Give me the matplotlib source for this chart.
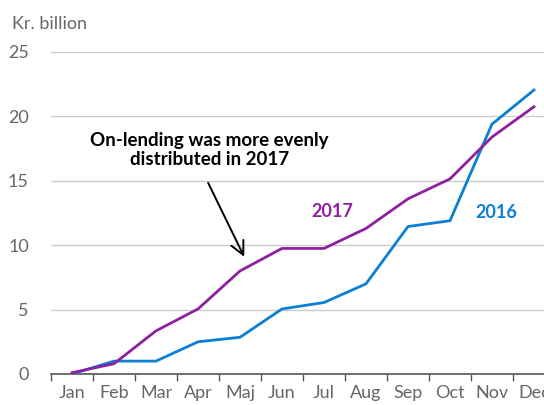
import numpy as np
import matplotlib.pyplot as plt

# --- Datos ---
meses = ['Jan', 'Feb', 'Mar', 'Apr', 'Maj', 'Jun', 'Jul', 'Aug', 'Sep', 'Oct', 'Nov', 'Dec']
valores_2016 = [0.0, 1.0, 1.0, 2.5, 2.85, 5.05, 5.55, 7.0, 11.45, 11.9, 19.4, 22.05]
valores_2017 = [0.1, 0.8, 3.35, 5.05, 8.0, 9.75, 9.75, 11.3, 13.6, 15.15, 18.4, 20.75]

AZUL = '#0b7fd4'
MORADO = '#8e209f'
GRIS = '#666666'

plt.rcParams['font.family'] = ['Lato', 'DejaVu Sans']

fig = plt.figure(figsize=(5.44, 4.05), dpi=100)
ax = fig.add_axes([51 / 544, 31 / 405, 504 / 544, 322 / 405])

x = np.arange(len(meses))
ax.plot(x, valores_2016, color=AZUL, linewidth=2.0, zorder=3)
ax.plot(x, valores_2017, color=MORADO, linewidth=2.0, zorder=3)

ax.set_xlim(-0.5, 11.5)
ax.set_ylim(0, 25)
ax.set_yticks([0, 5, 10, 15, 20, 25])
ax.set_xticks(x)
ax.set_xticklabels(meses)
ax.set_xticks(np.arange(-0.5, 12, 1), minor=True)

ax.tick_params(axis='x', which='major', length=0, pad=8, labelsize=13, labelcolor=GRIS)
ax.tick_params(axis='x', which='minor', length=5, width=1, color='#555555', direction='out')
ax.tick_params(axis='y', length=0, pad=16, labelsize=13, labelcolor=GRIS)

ax.grid(axis='y', color='#cccccc', linewidth=1)
ax.set_axisbelow(True)
for s in ['top', 'right', 'left']:
    ax.spines[s].set_visible(False)
ax.spines['bottom'].set_color('#555555')
ax.spines['bottom'].set_linewidth(1.2)

fig.text(12 / 544, 1 - 24 / 405, 'Kr. billion', color=GRIS, fontsize=13, va='center')

# Anotaciones
ax.text(3.27, 17.4, 'On-lending was more evenly\ndistributed in 2017',
        ha='center', va='center', fontsize=13.5, fontweight='bold', linespacing=1.1)
ax.annotate('', xy=(4.1, 9.1), xytext=(3.24, 14.85),
            arrowprops=dict(arrowstyle='->', color='black', lw=1.4,
                            mutation_scale=24, shrinkA=0, shrinkB=0))
ax.text(6.2, 12.6, '2017', color=MORADO, fontsize=13, fontweight='bold', ha='center', va='center')
ax.text(10.1, 12.5, '2016', color=AZUL, fontsize=13, fontweight='bold', ha='center', va='center')

fig.savefig('out.png', dpi=100)
